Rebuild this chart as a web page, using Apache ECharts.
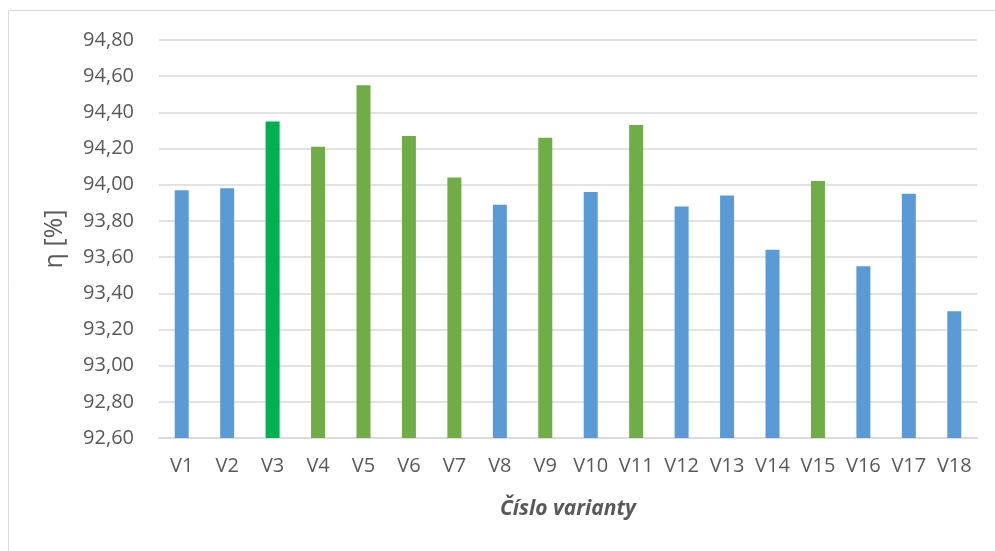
<!DOCTYPE html>
<html>
<head>
<meta charset="utf-8">
<script src="https://cdn.jsdelivr.net/npm/echarts@6/dist/echarts.min.js"></script>
<style>
  html, body { margin: 0; padding: 0; background: #fff; }
  #chart { width: 995px; height: 551px; }
</style>
</head>
<body>
<div id="chart"></div>
<script>
// Variant labels along the x axis
const variants = ['V1','V2','V3','V4','V5','V6','V7','V8','V9','V10','V11','V12','V13','V14','V15','V16','V17','V18'];
// Efficiency η [%] for each variant
const efficiency = [93.97, 93.98, 94.35, 94.21, 94.55, 94.27, 94.04, 93.89, 94.26, 93.96, 94.33, 93.88, 93.94, 93.64, 94.02, 93.55, 93.95, 93.30];
// Colour group per variant: 'base', 'better', 'best'
const group = ['base','base','best','better','better','better','better','base','better','base','better','base','base','base','better','base','base','base'];
// Y axis range and step
const yMin = 92.6, yMax = 94.8, yStep = 0.2;

const palette = { base: '#5B9BD5', better: '#70AD47', best: '#00B050' };
const textColor = '#595959';
const fontFamily = '"Open Sans", "Noto Sans", sans-serif';

const chart = echarts.init(document.getElementById('chart'), null, { renderer: 'canvas' });
chart.setOption({
  animation: false,
  backgroundColor: '#ffffff',
  graphic: [{
    type: 'rect',
    shape: { x: 8.5, y: 10.5, width: 1100, height: 700 },
    style: { fill: 'none', stroke: '#d9d9d9', lineWidth: 1 },
    silent: true
  }],
  grid: { left: 159, right: 18, top: 40, bottom: 113, containLabel: false },
  xAxis: {
    type: 'category',
    data: variants,
    axisTick: { show: false },
    axisLine: { lineStyle: { color: '#d9d9d9', width: 1.5 } },
    axisLabel: { color: textColor, fontSize: 20, fontFamily, margin: 18 },
    name: 'Číslo varianty',
    nameLocation: 'middle',
    nameGap: 61,
    nameTextStyle: { color: textColor, fontSize: 21, fontWeight: 'bold', fontStyle: 'italic', fontFamily }
  },
  yAxis: {
    type: 'value',
    min: yMin,
    max: yMax,
    interval: yStep,
    axisLine: { show: false },
    axisTick: { show: false },
    splitLine: { lineStyle: { color: '#d9d9d9', width: 1.5 } },
    axisLabel: {
      color: textColor, fontSize: 20, fontFamily, margin: 25,
      formatter: v => v.toFixed(2).replace('.', ',')
    },
    name: 'η [%]',
    nameLocation: 'middle',
    nameGap: 92,
    nameRotate: 90,
    nameTextStyle: { color: textColor, fontSize: 25, fontFamily }
  },
  series: [{
    type: 'bar',
    barWidth: 14,
    data: efficiency.map((v, i) => ({ value: v, itemStyle: { color: palette[group[i]] } }))
  }]
});
</script>
</body>
</html>
